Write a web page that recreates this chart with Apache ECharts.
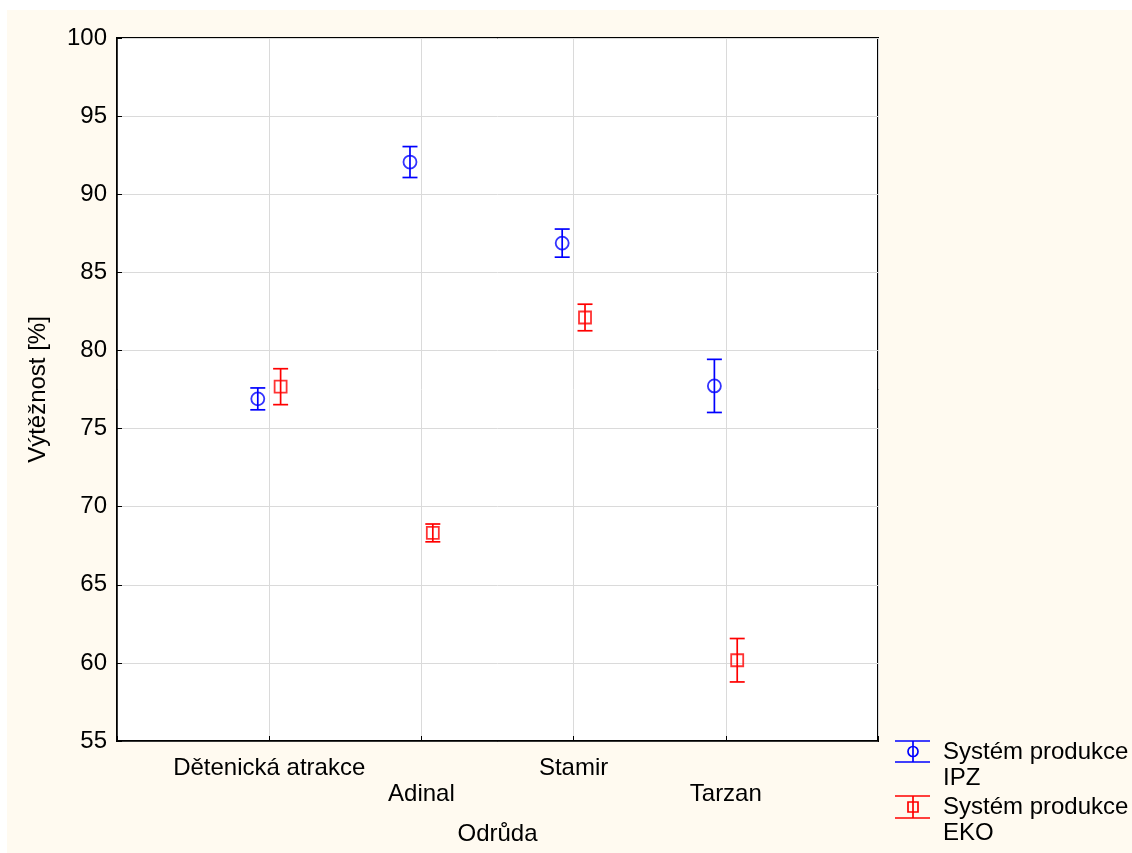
<!DOCTYPE html>
<html>
<head>
<meta charset="utf-8">
<script src="https://cdn.jsdelivr.net/npm/echarts@6/dist/echarts.min.js"></script>
<style>html,body{margin:0;padding:0;background:#fff}#c{width:1132px;height:853px}</style>
</head>
<body>
<div id="c"></div>
<script>
const categories = ['Dětenická atrakce', 'Adinal', 'Stamir', 'Tarzan'];
const ipzMean = [76.9, 92.06, 86.87, 77.73];
const ipzErr  = [0.7, 0.99, 0.9, 1.7];
const ekoMean = [77.68, 68.32, 82.11, 60.17];
const ekoErr  = [1.15, 0.57, 0.85, 1.39];
const yTicks = { min: 55, max: 100, interval: 5 };
const seriesNames = ['Systém produkce\nIPZ', 'Systém produkce\nEKO'];

const FONT = 'Arial, "Liberation Sans", sans-serif';
const FS = 24;
const BLUE = '#0000ff', RED = '#ff0000';
const OFF = 0.075;

function errData(means, errs, off) {
  return means.map((m, i) => [i + 1 + off, m - errs[i], m + errs[i]]);
}
function ptData(means, off) {
  return means.map((m, i) => [i + 1 + off, m]);
}
function errRender(color) {
  return function (params, api) {
    const x = api.value(0);
    const a = api.coord([x, api.value(1)]);
    const b = api.coord([x, api.value(2)]);
    const hw = 7.5;
    const st = { stroke: color, lineWidth: 1.7 };
    return {
      type: 'group',
      children: [
        { type: 'line', shape: { x1: a[0], y1: a[1], x2: b[0], y2: b[1] }, style: st },
        { type: 'line', shape: { x1: a[0] - hw, y1: a[1], x2: a[0] + hw, y2: a[1] }, style: st },
        { type: 'line', shape: { x1: b[0] - hw, y1: b[1], x2: b[0] + hw, y2: b[1] }, style: st }
      ]
    };
  };
}

const chart = echarts.init(document.getElementById('c'), null, { renderer: 'canvas' });
const option = {
  animation: false,
  textStyle: { fontFamily: FONT },
  graphic: [
    { type: 'rect', z: -10, silent: true, shape: { x: 7, y: 10, width: 1125, height: 843 }, style: { fill: '#fffaf0' } },
    { type: 'group', z: 100, children: [
      { type: 'line', shape: { x1: 895, y1: 741, x2: 930, y2: 741 }, style: { stroke: BLUE, lineWidth: 1.7 } },
      { type: 'line', shape: { x1: 895, y1: 762, x2: 930, y2: 762 }, style: { stroke: BLUE, lineWidth: 1.7 } },
      { type: 'line', shape: { x1: 913, y1: 741, x2: 913, y2: 762 }, style: { stroke: BLUE, lineWidth: 1.7 } },
      { type: 'circle', shape: { cx: 913, cy: 751.5, r: 5 }, style: { fill: 'none', stroke: BLUE, lineWidth: 1.7 } },
      { type: 'text', style: { x: 943, y: 739, text: seriesNames[0], font: FS + 'px ' + FONT, lineHeight: 26, fill: '#000' } }
    ]},
    { type: 'group', z: 100, children: [
      { type: 'line', shape: { x1: 895, y1: 796, x2: 930, y2: 796 }, style: { stroke: RED, lineWidth: 1.7 } },
      { type: 'line', shape: { x1: 895, y1: 818, x2: 930, y2: 818 }, style: { stroke: RED, lineWidth: 1.7 } },
      { type: 'line', shape: { x1: 913, y1: 796, x2: 913, y2: 818 }, style: { stroke: RED, lineWidth: 1.7 } },
      { type: 'rect', shape: { x: 908, y: 802, width: 10, height: 10 }, style: { fill: 'none', stroke: RED, lineWidth: 1.7 } },
      { type: 'text', style: { x: 943, y: 794, text: seriesNames[1], font: FS + 'px ' + FONT, lineHeight: 26, fill: '#000' } }
    ]}
  ],
  grid: {
    left: 117, top: 38, width: 761, height: 703,
    show: true, backgroundColor: '#ffffff', borderColor: '#000', borderWidth: 2
  },
  xAxis: {
    type: 'value', min: 0, max: 5, interval: 1,
    name: 'Odrůda', nameLocation: 'middle', nameGap: 81,
    nameTextStyle: { fontSize: FS, color: '#000', fontFamily: FONT },
    axisLine: { show: true, lineStyle: { color: '#000', width: 1.5 } },
    axisTick: { show: true, inside: true, length: 5, lineStyle: { color: '#000' } },
    splitLine: { show: true, lineStyle: { color: '#dadada', width: 1 } },
    axisLabel: {
      margin: 14, fontSize: FS, color: '#000', fontFamily: FONT, lineHeight: 26,
      formatter: function (v) {
        const i = Math.round(v) - 1;
        if (i < 0 || i >= categories.length) return '';
        return (i % 2 === 1 ? '\n' : '') + categories[i];
      }
    }
  },
  yAxis: {
    type: 'value', min: yTicks.min, max: yTicks.max, interval: yTicks.interval,
    name: 'Výtěžnost [%]', nameLocation: 'middle', nameGap: 67, nameRotate: 90,
    nameTextStyle: { fontSize: FS, color: '#000', fontFamily: FONT },
    axisLine: { show: true, lineStyle: { color: '#000', width: 1.5 } },
    axisTick: { show: true, inside: true, length: 5, lineStyle: { color: '#000' } },
    splitLine: { show: true, lineStyle: { color: '#dadada', width: 1 } },
    axisLabel: { margin: 10, fontSize: FS, color: '#000', fontFamily: FONT }
  },
  series: [
    { type: 'custom', name: 'ipzErr', renderItem: errRender(BLUE), data: errData(ipzMean, ipzErr, -OFF), z: 3, silent: true },
    { type: 'custom', name: 'ekoErr', renderItem: errRender(RED), data: errData(ekoMean, ekoErr, OFF), z: 3, silent: true },
    { type: 'scatter', name: seriesNames[0], data: ptData(ipzMean, -OFF), symbol: 'circle', symbolSize: 13,
      itemStyle: { color: 'rgba(0,0,0,0)', borderColor: BLUE, borderWidth: 1.8 }, z: 4 },
    { type: 'scatter', name: seriesNames[1], data: ptData(ekoMean, OFF), symbol: 'rect', symbolSize: 12,
      itemStyle: { color: 'rgba(0,0,0,0)', borderColor: RED, borderWidth: 1.8 }, z: 4 }
  ]
};
chart.setOption(option);
</script>
</body>
</html>
